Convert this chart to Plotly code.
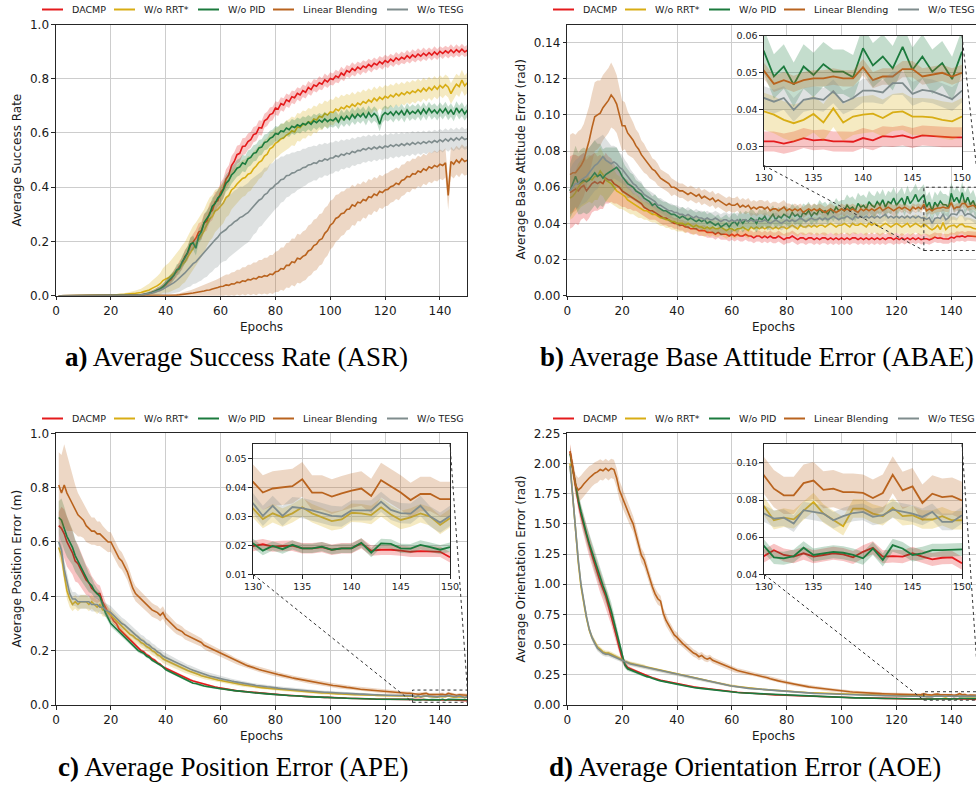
import plotly.graph_objects as go

W, H = 976, 785
epochs = list(range(1, 151))

method_names = ["DACMP", "W/o RRT*", "W/o PID", "Linear Blending", "W/o TESG"]
method_colors = ["#e41a1c", "#d8ad14", "#1b7a3d", "#b9631e", "#7f8c8d"]

# ---------------- (a) Average Success Rate ----------------
asr_dacmp = [
    0, 0, 0, 0, 0, 0, 0, 0, 0, 0,
    0, 0, 0, 0, 0, 0, 0, 0, 0, 0,
    0, 0, 0, 0, 0, 0, 0, 0.001, 0.001, 0.002,
    0.003, 0.005, 0.007, 0.008, 0.013, 0.015, 0.022, 0.024, 0.034, 0.04,
    0.052, 0.06, 0.078, 0.088, 0.108, 0.118, 0.145, 0.155, 0.185, 0.2,
    0.212, 0.235, 0.24, 0.268, 0.275, 0.305, 0.315, 0.345, 0.35, 0.38,
    0.395, 0.43, 0.445, 0.48, 0.495, 0.52, 0.525, 0.55, 0.552, 0.568,
    0.575, 0.594, 0.598, 0.62, 0.618, 0.645, 0.652, 0.668, 0.672, 0.692,
    0.688, 0.708, 0.703, 0.722, 0.716, 0.734, 0.73, 0.746, 0.74, 0.756,
    0.75, 0.768, 0.76, 0.777, 0.772, 0.785, 0.78, 0.796, 0.788, 0.801,
    0.797, 0.81, 0.805, 0.821, 0.813, 0.83, 0.824, 0.838, 0.83, 0.843,
    0.835, 0.847, 0.841, 0.853, 0.845, 0.857, 0.851, 0.863, 0.855, 0.867,
    0.86, 0.872, 0.864, 0.877, 0.869, 0.879, 0.873, 0.885, 0.876, 0.888,
    0.88, 0.891, 0.883, 0.894, 0.885, 0.896, 0.887, 0.899, 0.889, 0.901,
    0.893, 0.903, 0.895, 0.906, 0.896, 0.907, 0.898, 0.909, 0.899, 0.905,
]
asr_dacmp_sd = [
    0, 0, 0, 0, 0, 0, 0, 0, 0, 0,
    0, 0, 0, 0, 0, 0, 0, 0, 0, 0,
    0, 0, 0, 0, 0, 0, 0, 0.001, 0.001, 0.002,
    0.002, 0.003, 0.004, 0.005, 0.006, 0.007, 0.008, 0.009, 0.01, 0.012,
    0.014, 0.016, 0.018, 0.02, 0.021, 0.022, 0.024, 0.026, 0.028, 0.03,
    0.031, 0.032, 0.033, 0.034, 0.035, 0.035, 0.036, 0.036, 0.037, 0.037,
    0.037, 0.036, 0.036, 0.035, 0.034, 0.033, 0.032, 0.031, 0.03, 0.03,
    0.029, 0.028, 0.028, 0.027, 0.027, 0.026, 0.026, 0.026, 0.025, 0.025,
    0.025, 0.024, 0.025, 0.024, 0.024, 0.023, 0.024, 0.023, 0.024, 0.023,
    0.023, 0.024, 0.023, 0.022, 0.023, 0.024, 0.022, 0.023, 0.022, 0.023,
    0.022, 0.023, 0.022, 0.023, 0.022, 0.021, 0.022, 0.023, 0.022, 0.021,
    0.022, 0.021, 0.022, 0.021, 0.022, 0.021, 0.02, 0.021, 0.022, 0.021,
    0.021, 0.02, 0.021, 0.022, 0.02, 0.021, 0.02, 0.021, 0.02, 0.021,
    0.02, 0.021, 0.02, 0.021, 0.02, 0.019, 0.02, 0.021, 0.02, 0.019,
    0.02, 0.019, 0.02, 0.021, 0.019, 0.02, 0.019, 0.02, 0.019, 0.02,
]
asr_rrt = [
    0, 0, 0, 0, 0, 0, 0, 0, 0, 0,
    0, 0, 0, 0, 0, 0, 0, 0.001, 0.001, 0.002,
    0.002, 0.003, 0.003, 0.004, 0.005, 0.006, 0.006, 0.008, 0.009, 0.01,
    0.012, 0.015, 0.018, 0.021, 0.027, 0.031, 0.037, 0.044, 0.056, 0.062,
    0.066, 0.074, 0.082, 0.092, 0.1, 0.114, 0.124, 0.142, 0.158, 0.178,
    0.19, 0.206, 0.222, 0.238, 0.262, 0.282, 0.292, 0.312, 0.318, 0.332,
    0.342, 0.362, 0.37, 0.39, 0.398, 0.412, 0.422, 0.432, 0.436, 0.448,
    0.452, 0.468, 0.478, 0.492, 0.498, 0.515, 0.522, 0.542, 0.548, 0.562,
    0.568, 0.578, 0.582, 0.592, 0.598, 0.608, 0.604, 0.622, 0.62, 0.632,
    0.63, 0.642, 0.638, 0.652, 0.648, 0.662, 0.658, 0.672, 0.666, 0.678,
    0.675, 0.688, 0.682, 0.695, 0.689, 0.7, 0.694, 0.706, 0.698, 0.71,
    0.704, 0.716, 0.71, 0.722, 0.714, 0.728, 0.719, 0.732, 0.724, 0.735,
    0.729, 0.74, 0.733, 0.745, 0.737, 0.748, 0.741, 0.752, 0.745, 0.755,
    0.749, 0.76, 0.752, 0.765, 0.755, 0.768, 0.758, 0.772, 0.761, 0.775,
    0.766, 0.778, 0.769, 0.745, 0.764, 0.78, 0.771, 0.795, 0.774, 0.785,
]
asr_rrt_sd = [
    0, 0, 0, 0, 0, 0, 0, 0, 0, 0,
    0, 0, 0, 0, 0, 0, 0, 0.001, 0.001, 0.001,
    0.002, 0.003, 0.003, 0.004, 0.005, 0.006, 0.007, 0.008, 0.01, 0.012,
    0.014, 0.017, 0.02, 0.024, 0.028, 0.032, 0.036, 0.04, 0.045, 0.05,
    0.054, 0.058, 0.062, 0.066, 0.07, 0.072, 0.074, 0.076, 0.078, 0.08,
    0.08, 0.08, 0.08, 0.08, 0.08, 0.08, 0.079, 0.078, 0.077, 0.076,
    0.075, 0.074, 0.073, 0.072, 0.071, 0.07, 0.069, 0.068, 0.067, 0.066,
    0.065, 0.064, 0.063, 0.062, 0.061, 0.06, 0.059, 0.058, 0.057, 0.056,
    0.055, 0.055, 0.054, 0.054, 0.053, 0.053, 0.052, 0.052, 0.051, 0.051,
    0.05, 0.05, 0.05, 0.049, 0.049, 0.049, 0.048, 0.048, 0.048, 0.047,
    0.047, 0.047, 0.046, 0.046, 0.046, 0.045, 0.045, 0.045, 0.044, 0.044,
    0.044, 0.044, 0.043, 0.043, 0.043, 0.043, 0.042, 0.042, 0.042, 0.042,
    0.042, 0.041, 0.041, 0.041, 0.041, 0.04, 0.04, 0.04, 0.04, 0.04,
    0.04, 0.04, 0.039, 0.039, 0.039, 0.039, 0.039, 0.038, 0.038, 0.038,
    0.038, 0.038, 0.038, 0.038, 0.038, 0.038, 0.038, 0.038, 0.038, 0.038,
]
asr_pid = [
    0, 0, 0, 0, 0, 0, 0, 0, 0, 0,
    0, 0, 0, 0, 0, 0, 0, 0, 0, 0,
    0, 0, 0, 0, 0, 0, 0, 0, 0, 0,
    0.002, 0.004, 0.006, 0.009, 0.012, 0.016, 0.02, 0.026, 0.032, 0.045,
    0.055, 0.065, 0.075, 0.095, 0.1, 0.125, 0.14, 0.16, 0.19, 0.195,
    0.175, 0.22, 0.235, 0.27, 0.285, 0.3, 0.33, 0.34, 0.36, 0.37,
    0.39, 0.415, 0.425, 0.445, 0.455, 0.47, 0.475, 0.49, 0.485, 0.505,
    0.51, 0.525, 0.528, 0.545, 0.548, 0.565, 0.568, 0.58, 0.585, 0.598,
    0.595, 0.608, 0.605, 0.618, 0.612, 0.625, 0.62, 0.63, 0.625, 0.635,
    0.63, 0.64, 0.632, 0.645, 0.638, 0.648, 0.64, 0.652, 0.642, 0.65,
    0.645, 0.655, 0.64, 0.66, 0.648, 0.662, 0.65, 0.668, 0.655, 0.67,
    0.66, 0.672, 0.655, 0.675, 0.66, 0.672, 0.662, 0.632, 0.665, 0.675,
    0.668, 0.678, 0.665, 0.68, 0.668, 0.682, 0.665, 0.685, 0.67, 0.68,
    0.672, 0.685, 0.67, 0.688, 0.672, 0.69, 0.675, 0.685, 0.672, 0.688,
    0.675, 0.69, 0.672, 0.685, 0.668, 0.692, 0.675, 0.688, 0.67, 0.685,
]
asr_pid_sd = [
    0, 0, 0, 0, 0, 0, 0, 0, 0, 0,
    0, 0, 0, 0, 0, 0, 0, 0, 0, 0,
    0, 0, 0, 0, 0, 0, 0, 0, 0, 0,
    0.002, 0.003, 0.004, 0.005, 0.006, 0.008, 0.009, 0.01, 0.012, 0.014,
    0.015, 0.017, 0.018, 0.02, 0.021, 0.022, 0.023, 0.024, 0.025, 0.026,
    0.027, 0.028, 0.028, 0.029, 0.03, 0.03, 0.031, 0.031, 0.031, 0.032,
    0.032, 0.032, 0.032, 0.032, 0.031, 0.031, 0.031, 0.031, 0.03, 0.03,
    0.03, 0.03, 0.03, 0.029, 0.029, 0.029, 0.029, 0.028, 0.028, 0.028,
    0.028, 0.028, 0.028, 0.028, 0.027, 0.027, 0.027, 0.027, 0.027, 0.027,
    0.027, 0.026, 0.027, 0.026, 0.027, 0.026, 0.027, 0.026, 0.027, 0.026,
    0.026, 0.027, 0.026, 0.027, 0.026, 0.027, 0.026, 0.027, 0.026, 0.027,
    0.026, 0.026, 0.027, 0.026, 0.026, 0.027, 0.026, 0.026, 0.027, 0.026,
    0.026, 0.026, 0.026, 0.026, 0.026, 0.026, 0.026, 0.026, 0.026, 0.026,
    0.026, 0.025, 0.026, 0.025, 0.026, 0.025, 0.026, 0.025, 0.026, 0.025,
    0.025, 0.025, 0.025, 0.025, 0.025, 0.025, 0.025, 0.025, 0.025, 0.025,
]
asr_lb = [
    0, 0, 0, 0, 0, 0, 0, 0, 0, 0,
    0, 0, 0, 0, 0, 0, 0, 0, 0, 0,
    0, 0, 0, 0, 0, 0, 0, 0, 0, 0,
    0, 0, 0, 0, 0, 0, 0, 0, 0, 0,
    0.001, 0.001, 0.002, 0.002, 0.003, 0.004, 0.005, 0.006, 0.008, 0.01,
    0.012, 0.013, 0.016, 0.017, 0.02, 0.021, 0.025, 0.027, 0.03, 0.034,
    0.035, 0.04, 0.038, 0.044, 0.043, 0.05, 0.048, 0.055, 0.053, 0.06,
    0.058, 0.064, 0.062, 0.07, 0.068, 0.074, 0.072, 0.08, 0.078, 0.088,
    0.09, 0.1, 0.098, 0.112, 0.112, 0.125, 0.122, 0.138, 0.135, 0.145,
    0.15, 0.165, 0.17, 0.185, 0.19, 0.205, 0.21, 0.23, 0.24, 0.26,
    0.268, 0.285, 0.29, 0.302, 0.305, 0.318, 0.32, 0.335, 0.33, 0.345,
    0.342, 0.355, 0.35, 0.365, 0.362, 0.375, 0.37, 0.385, 0.38, 0.39,
    0.392, 0.402, 0.405, 0.415, 0.41, 0.425, 0.428, 0.44, 0.438, 0.45,
    0.448, 0.46, 0.455, 0.468, 0.462, 0.475, 0.47, 0.48, 0.475, 0.485,
    0.48, 0.49, 0.37, 0.495, 0.485, 0.5, 0.49, 0.505, 0.495, 0.5,
]
asr_lb_sd = [
    0, 0, 0, 0, 0, 0, 0, 0, 0, 0,
    0, 0, 0, 0, 0, 0, 0, 0, 0, 0,
    0, 0, 0, 0, 0, 0, 0, 0, 0, 0,
    0, 0, 0, 0, 0, 0, 0, 0, 0, 0,
    0.002, 0.003, 0.004, 0.005, 0.006, 0.008, 0.009, 0.01, 0.012, 0.014,
    0.016, 0.018, 0.02, 0.022, 0.024, 0.026, 0.028, 0.03, 0.032, 0.034,
    0.036, 0.038, 0.04, 0.042, 0.044, 0.046, 0.048, 0.05, 0.052, 0.054,
    0.056, 0.058, 0.06, 0.062, 0.064, 0.066, 0.068, 0.07, 0.072, 0.074,
    0.076, 0.078, 0.08, 0.082, 0.084, 0.086, 0.088, 0.09, 0.09, 0.092,
    0.092, 0.094, 0.094, 0.095, 0.095, 0.095, 0.094, 0.093, 0.092, 0.09,
    0.088, 0.086, 0.084, 0.082, 0.08, 0.078, 0.076, 0.074, 0.072, 0.07,
    0.068, 0.067, 0.066, 0.065, 0.064, 0.063, 0.062, 0.061, 0.06, 0.06,
    0.06, 0.059, 0.059, 0.058, 0.058, 0.058, 0.057, 0.057, 0.057, 0.056,
    0.056, 0.056, 0.056, 0.055, 0.055, 0.055, 0.055, 0.055, 0.054, 0.054,
    0.054, 0.054, 0.054, 0.054, 0.053, 0.053, 0.053, 0.053, 0.053, 0.053,
]
asr_tesg = [
    0, 0, 0, 0, 0, 0, 0, 0, 0, 0,
    0, 0, 0, 0, 0, 0, 0, 0, 0, 0,
    0, 0, 0, 0, 0, 0, 0, 0.001, 0.001, 0.002,
    0.003, 0.004, 0.006, 0.008, 0.01, 0.013, 0.016, 0.02, 0.025, 0.03,
    0.035, 0.042, 0.048, 0.056, 0.064, 0.075, 0.084, 0.096, 0.104, 0.118,
    0.125, 0.136, 0.146, 0.16, 0.17, 0.182, 0.194, 0.206, 0.216, 0.23,
    0.236, 0.244, 0.256, 0.262, 0.272, 0.278, 0.288, 0.292, 0.3, 0.306,
    0.318, 0.33, 0.338, 0.352, 0.358, 0.372, 0.378, 0.392, 0.398, 0.41,
    0.416, 0.428, 0.43, 0.442, 0.444, 0.452, 0.454, 0.462, 0.464, 0.472,
    0.474, 0.482, 0.484, 0.49, 0.488, 0.498, 0.496, 0.504, 0.5, 0.508,
    0.508, 0.516, 0.512, 0.522, 0.518, 0.526, 0.522, 0.532, 0.528, 0.536,
    0.534, 0.542, 0.538, 0.546, 0.54, 0.548, 0.542, 0.55, 0.544, 0.552,
    0.548, 0.556, 0.55, 0.558, 0.552, 0.56, 0.554, 0.562, 0.556, 0.565,
    0.558, 0.566, 0.56, 0.568, 0.562, 0.57, 0.564, 0.572, 0.566, 0.575,
    0.568, 0.578, 0.57, 0.58, 0.572, 0.582, 0.574, 0.585, 0.576, 0.58,
]
asr_tesg_sd = [
    0, 0, 0, 0, 0, 0, 0, 0, 0, 0,
    0, 0, 0, 0, 0, 0, 0, 0, 0, 0,
    0, 0, 0, 0, 0, 0, 0, 0.001, 0.001, 0.002,
    0.004, 0.005, 0.007, 0.008, 0.01, 0.012, 0.014, 0.017, 0.02, 0.025,
    0.03, 0.035, 0.04, 0.045, 0.05, 0.055, 0.06, 0.065, 0.07, 0.075,
    0.08, 0.085, 0.09, 0.095, 0.1, 0.1, 0.105, 0.105, 0.11, 0.11,
    0.11, 0.115, 0.115, 0.115, 0.115, 0.115, 0.115, 0.11, 0.11, 0.11,
    0.11, 0.105, 0.105, 0.1, 0.1, 0.1, 0.095, 0.095, 0.09, 0.09,
    0.088, 0.085, 0.083, 0.08, 0.078, 0.076, 0.074, 0.072, 0.07, 0.07,
    0.068, 0.066, 0.065, 0.064, 0.063, 0.062, 0.061, 0.06, 0.059, 0.058,
    0.057, 0.056, 0.055, 0.054, 0.053, 0.052, 0.052, 0.051, 0.05, 0.05,
    0.049, 0.049, 0.048, 0.048, 0.047, 0.047, 0.046, 0.046, 0.045, 0.045,
    0.045, 0.044, 0.044, 0.044, 0.043, 0.043, 0.043, 0.042, 0.042, 0.042,
    0.042, 0.041, 0.041, 0.041, 0.04, 0.04, 0.04, 0.04, 0.04, 0.04,
    0.04, 0.039, 0.039, 0.039, 0.039, 0.038, 0.038, 0.038, 0.038, 0.038,
]

# ---------------- (b) Average Base Attitude Error ----------------
abae_dacmp = [
    0.057, 0.058, 0.059, 0.058, 0.06, 0.061, 0.058, 0.06, 0.062, 0.063,
    0.062, 0.063, 0.062, 0.065, 0.064, 0.064, 0.062, 0.061, 0.06, 0.058,
    0.057, 0.056, 0.055, 0.054, 0.053, 0.052, 0.051, 0.049, 0.048, 0.047,
    0.047, 0.046, 0.045, 0.044, 0.043, 0.043, 0.042, 0.041, 0.04, 0.04,
    0.039, 0.039, 0.038, 0.038, 0.037, 0.037, 0.037, 0.036, 0.036, 0.036,
    0.035, 0.035, 0.035, 0.034, 0.035, 0.034, 0.034, 0.034, 0.033, 0.034,
    0.033, 0.034, 0.033, 0.033, 0.034, 0.033, 0.033, 0.032, 0.033, 0.033,
    0.032, 0.033, 0.032, 0.033, 0.032, 0.032, 0.033, 0.032, 0.031, 0.032,
    0.032, 0.033, 0.032, 0.031, 0.032, 0.032, 0.031, 0.032, 0.032, 0.031,
    0.032, 0.031, 0.032, 0.032, 0.031, 0.032, 0.031, 0.032, 0.031, 0.032,
    0.031, 0.032, 0.031, 0.032, 0.032, 0.031, 0.032, 0.031, 0.032, 0.031,
    0.032, 0.031, 0.032, 0.031, 0.032, 0.031, 0.032, 0.032, 0.031, 0.032,
    0.031, 0.032, 0.031, 0.032, 0.031, 0.032, 0.031, 0.032, 0.031, 0.0315,
    0.0315, 0.0309, 0.0315, 0.0324, 0.0318, 0.032, 0.0315, 0.0315, 0.0314, 0.0324,
    0.0318, 0.0329, 0.0327, 0.0331, 0.0324, 0.0331, 0.0329, 0.0326, 0.0326, 0.0326,
]
abae_dacmp_sd = [
    0.02, 0.02, 0.019, 0.019, 0.018, 0.018, 0.017, 0.017, 0.016, 0.016,
    0.015, 0.015, 0.014, 0.014, 0.013, 0.012, 0.011, 0.01, 0.01, 0.009,
    0.008, 0.008, 0.007, 0.007, 0.006, 0.006, 0.006, 0.005, 0.005, 0.005,
    0.005, 0.004, 0.004, 0.004, 0.004, 0.004, 0.004, 0.003, 0.003, 0.003,
    0.003, 0.003, 0.003, 0.003, 0.003, 0.003, 0.003, 0.003, 0.003, 0.003,
    0.003, 0.003, 0.003, 0.003, 0.003, 0.003, 0.003, 0.003, 0.003, 0.003,
    0.003, 0.003, 0.003, 0.003, 0.003, 0.003, 0.003, 0.003, 0.003, 0.003,
    0.003, 0.003, 0.003, 0.003, 0.003, 0.003, 0.003, 0.003, 0.003, 0.003,
    0.003, 0.003, 0.003, 0.003, 0.003, 0.003, 0.003, 0.003, 0.003, 0.003,
    0.003, 0.003, 0.003, 0.003, 0.003, 0.003, 0.003, 0.003, 0.003, 0.003,
    0.003, 0.003, 0.003, 0.003, 0.003, 0.003, 0.003, 0.003, 0.003, 0.003,
    0.003, 0.003, 0.003, 0.003, 0.003, 0.003, 0.003, 0.003, 0.003, 0.003,
    0.0027, 0.0027, 0.0027, 0.0027, 0.0027, 0.0027, 0.0027, 0.0027, 0.0027, 0.0027,
    0.0027, 0.0027, 0.0027, 0.0027, 0.0027, 0.0027, 0.0027, 0.0027, 0.0027, 0.0027,
    0.0027, 0.0027, 0.0027, 0.0027, 0.0027, 0.0027, 0.0027, 0.0027, 0.0027, 0.0027,
]
abae_rrt = [
    0.054, 0.055, 0.057, 0.06, 0.062, 0.063, 0.064, 0.065, 0.064, 0.066,
    0.066, 0.069, 0.067, 0.064, 0.063, 0.062, 0.06, 0.058, 0.057, 0.056,
    0.055, 0.053, 0.052, 0.051, 0.05, 0.049, 0.048, 0.047, 0.047, 0.046,
    0.045, 0.045, 0.044, 0.043, 0.043, 0.042, 0.042, 0.041, 0.041, 0.04,
    0.04, 0.04, 0.039, 0.04, 0.039, 0.038, 0.039, 0.038, 0.038, 0.037,
    0.038, 0.037, 0.038, 0.037, 0.037, 0.038, 0.037, 0.036, 0.037, 0.037,
    0.036, 0.037, 0.037, 0.038, 0.037, 0.036, 0.038, 0.037, 0.038, 0.037,
    0.038, 0.037, 0.038, 0.038, 0.037, 0.038, 0.037, 0.038, 0.038, 0.037,
    0.038, 0.039, 0.038, 0.037, 0.039, 0.038, 0.038, 0.039, 0.038, 0.039,
    0.038, 0.039, 0.039, 0.038, 0.039, 0.04, 0.039, 0.038, 0.039, 0.039,
    0.04, 0.039, 0.038, 0.04, 0.039, 0.039, 0.04, 0.039, 0.038, 0.04,
    0.039, 0.04, 0.039, 0.038, 0.039, 0.04, 0.039, 0.038, 0.039, 0.04,
    0.039, 0.038, 0.039, 0.04, 0.038, 0.039, 0.04, 0.039, 0.038, 0.0396,
    0.0387, 0.0373, 0.0364, 0.0373, 0.0389, 0.0366, 0.0404, 0.0366, 0.0382, 0.0387,
    0.039, 0.0378, 0.0393, 0.0396, 0.0382, 0.0382, 0.038, 0.0373, 0.0369, 0.0382,
]
abae_rrt_sd = [
    0.012, 0.012, 0.012, 0.013, 0.013, 0.013, 0.013, 0.013, 0.013, 0.013,
    0.013, 0.013, 0.012, 0.012, 0.011, 0.011, 0.01, 0.009, 0.009, 0.008,
    0.008, 0.007, 0.007, 0.006, 0.006, 0.006, 0.005, 0.005, 0.005, 0.005,
    0.0045, 0.0045, 0.0045, 0.0045, 0.0045, 0.0045, 0.0045, 0.0045, 0.0045, 0.0045,
    0.0045, 0.0045, 0.0045, 0.0045, 0.0045, 0.0045, 0.0045, 0.0045, 0.0045, 0.0045,
    0.0045, 0.0045, 0.0045, 0.0045, 0.0045, 0.0045, 0.0045, 0.0045, 0.0045, 0.0045,
    0.0045, 0.0045, 0.0045, 0.0045, 0.0045, 0.0045, 0.0045, 0.0045, 0.0045, 0.0045,
    0.0045, 0.0045, 0.0045, 0.0045, 0.0045, 0.0045, 0.0045, 0.0045, 0.0045, 0.0045,
    0.0045, 0.0045, 0.0045, 0.0045, 0.0045, 0.0045, 0.0045, 0.0045, 0.0045, 0.0045,
    0.005, 0.005, 0.005, 0.005, 0.005, 0.005, 0.005, 0.005, 0.005, 0.005,
    0.005, 0.005, 0.005, 0.005, 0.005, 0.005, 0.005, 0.005, 0.005, 0.005,
    0.005, 0.005, 0.005, 0.005, 0.005, 0.005, 0.005, 0.005, 0.005, 0.005,
    0.005, 0.005, 0.005, 0.005, 0.005, 0.005, 0.005, 0.005, 0.005, 0.005,
    0.005, 0.005, 0.005, 0.005, 0.005, 0.005, 0.005, 0.005, 0.005, 0.005,
    0.005, 0.005, 0.005, 0.005, 0.005, 0.005, 0.005, 0.005, 0.005, 0.005,
]
abae_pid = [
    0.058, 0.062, 0.066, 0.062, 0.063, 0.064, 0.063, 0.064, 0.066, 0.068,
    0.066, 0.067, 0.065, 0.067, 0.068, 0.069, 0.07, 0.071, 0.069, 0.066,
    0.064, 0.062, 0.061, 0.06, 0.058, 0.057, 0.056, 0.054, 0.053, 0.052,
    0.05, 0.051, 0.049, 0.048, 0.047, 0.047, 0.046, 0.045, 0.045, 0.044,
    0.043, 0.044, 0.043, 0.042, 0.043, 0.042, 0.041, 0.042, 0.041, 0.042,
    0.04, 0.041, 0.04, 0.039, 0.04, 0.038, 0.039, 0.04, 0.038, 0.04,
    0.041, 0.039, 0.042, 0.04, 0.042, 0.041, 0.043, 0.042, 0.04, 0.043,
    0.042, 0.044, 0.041, 0.043, 0.045, 0.042, 0.044, 0.043, 0.045, 0.044,
    0.043, 0.046, 0.044, 0.045, 0.043, 0.046, 0.045, 0.047, 0.044, 0.046,
    0.045, 0.048, 0.046, 0.047, 0.045, 0.048, 0.046, 0.049, 0.047, 0.048,
    0.047, 0.05, 0.048, 0.049, 0.047, 0.051, 0.049, 0.05, 0.048, 0.052,
    0.05, 0.049, 0.052, 0.05, 0.053, 0.049, 0.052, 0.051, 0.054, 0.05,
    0.052, 0.054, 0.05, 0.055, 0.051, 0.053, 0.056, 0.052, 0.054, 0.0557,
    0.049, 0.0517, 0.0468, 0.0517, 0.0494, 0.0523, 0.0503, 0.0503, 0.0488, 0.0566,
    0.052, 0.0544, 0.0512, 0.057, 0.0508, 0.0544, 0.0503, 0.0526, 0.0483, 0.0557,
]
abae_pid_sd = [
    0.015, 0.016, 0.017, 0.017, 0.018, 0.018, 0.018, 0.018, 0.018, 0.018,
    0.018, 0.017, 0.016, 0.015, 0.014, 0.013, 0.012, 0.011, 0.01, 0.009,
    0.008, 0.008, 0.007, 0.007, 0.006, 0.006, 0.006, 0.006, 0.005, 0.005,
    0.005, 0.005, 0.005, 0.005, 0.005, 0.005, 0.005, 0.005, 0.005, 0.005,
    0.005, 0.005, 0.005, 0.005, 0.005, 0.005, 0.005, 0.005, 0.005, 0.005,
    0.005, 0.005, 0.005, 0.005, 0.005, 0.005, 0.005, 0.005, 0.005, 0.005,
    0.005, 0.005, 0.005, 0.005, 0.005, 0.005, 0.005, 0.005, 0.005, 0.005,
    0.005, 0.005, 0.005, 0.005, 0.005, 0.005, 0.005, 0.005, 0.005, 0.005,
    0.005, 0.005, 0.005, 0.005, 0.005, 0.005, 0.005, 0.005, 0.005, 0.005,
    0.005, 0.005, 0.005, 0.005, 0.005, 0.005, 0.005, 0.005, 0.005, 0.005,
    0.006, 0.006, 0.006, 0.006, 0.006, 0.006, 0.006, 0.006, 0.006, 0.006,
    0.006, 0.006, 0.006, 0.006, 0.006, 0.006, 0.006, 0.006, 0.006, 0.006,
    0.006, 0.006, 0.006, 0.006, 0.006, 0.006, 0.006, 0.006, 0.006, 0.006,
    0.006, 0.006, 0.006, 0.006, 0.006, 0.006, 0.006, 0.006, 0.006, 0.006,
    0.006, 0.006, 0.006, 0.006, 0.006, 0.006, 0.006, 0.006, 0.006, 0.006,
]
abae_lb = [
    0.067, 0.068, 0.068, 0.07, 0.072, 0.075, 0.08, 0.086, 0.093, 0.099,
    0.1, 0.101, 0.104, 0.106, 0.108, 0.111, 0.109, 0.106, 0.1, 0.094,
    0.094, 0.09, 0.088, 0.086, 0.083, 0.081, 0.078, 0.076, 0.074, 0.072,
    0.07, 0.069, 0.067, 0.065, 0.064, 0.063, 0.062, 0.06, 0.06, 0.059,
    0.058, 0.058, 0.057, 0.056, 0.057, 0.056, 0.055, 0.056, 0.054, 0.055,
    0.054, 0.053, 0.054, 0.052, 0.053, 0.052, 0.051, 0.05, 0.051, 0.05,
    0.05, 0.051, 0.049, 0.05, 0.049, 0.05, 0.048, 0.049, 0.048, 0.049,
    0.049, 0.048, 0.049, 0.047, 0.048, 0.048, 0.047, 0.048, 0.049, 0.047,
    0.048, 0.047, 0.048, 0.047, 0.048, 0.046, 0.047, 0.048, 0.047, 0.048,
    0.047, 0.048, 0.047, 0.046, 0.047, 0.048, 0.047, 0.046, 0.047, 0.048,
    0.047, 0.048, 0.047, 0.048, 0.047, 0.046, 0.048, 0.047, 0.048, 0.047,
    0.048, 0.047, 0.048, 0.049, 0.047, 0.048, 0.049, 0.048, 0.047, 0.048,
    0.049, 0.048, 0.049, 0.048, 0.047, 0.049, 0.048, 0.049, 0.048, 0.0505,
    0.047, 0.048, 0.047, 0.048, 0.0485, 0.0485, 0.049, 0.0485, 0.0485, 0.0515,
    0.048, 0.049, 0.049, 0.051, 0.051, 0.049, 0.0495, 0.05, 0.049, 0.05,
]
abae_lb_sd = [
    0.022, 0.022, 0.021, 0.021, 0.02, 0.02, 0.02, 0.019, 0.019, 0.019,
    0.019, 0.018, 0.018, 0.018, 0.018, 0.018, 0.017, 0.016, 0.015, 0.014,
    0.013, 0.012, 0.011, 0.01, 0.009, 0.009, 0.008, 0.008, 0.007, 0.007,
    0.006, 0.006, 0.006, 0.005, 0.005, 0.005, 0.005, 0.005, 0.004, 0.004,
    0.004, 0.004, 0.004, 0.004, 0.004, 0.004, 0.004, 0.004, 0.004, 0.004,
    0.004, 0.004, 0.004, 0.004, 0.004, 0.004, 0.004, 0.004, 0.004, 0.004,
    0.004, 0.004, 0.004, 0.004, 0.004, 0.004, 0.004, 0.004, 0.004, 0.004,
    0.004, 0.004, 0.004, 0.004, 0.004, 0.004, 0.004, 0.004, 0.004, 0.004,
    0.003, 0.003, 0.003, 0.003, 0.003, 0.003, 0.003, 0.003, 0.003, 0.003,
    0.003, 0.003, 0.003, 0.003, 0.003, 0.003, 0.003, 0.003, 0.003, 0.003,
    0.003, 0.003, 0.003, 0.003, 0.003, 0.003, 0.003, 0.003, 0.003, 0.003,
    0.003, 0.003, 0.003, 0.003, 0.003, 0.003, 0.003, 0.003, 0.003, 0.003,
    0.0022, 0.0022, 0.0022, 0.0022, 0.0022, 0.0022, 0.0022, 0.0022, 0.0022, 0.0022,
    0.0022, 0.0022, 0.0022, 0.0022, 0.0022, 0.0022, 0.0022, 0.0022, 0.0022, 0.0022,
    0.0022, 0.0022, 0.0022, 0.0022, 0.0022, 0.0022, 0.0022, 0.0022, 0.0022, 0.0022,
]
abae_tesg = [
    0.058, 0.06, 0.062, 0.062, 0.064, 0.065, 0.066, 0.068, 0.07, 0.072,
    0.073, 0.075, 0.077, 0.075, 0.074, 0.073, 0.074, 0.073, 0.071, 0.07,
    0.068, 0.066, 0.064, 0.062, 0.061, 0.059, 0.058, 0.056, 0.055, 0.054,
    0.053, 0.052, 0.05, 0.05, 0.049, 0.048, 0.047, 0.047, 0.046, 0.046,
    0.045, 0.045, 0.044, 0.045, 0.044, 0.043, 0.044, 0.043, 0.043, 0.042,
    0.043, 0.042, 0.042, 0.043, 0.042, 0.041, 0.042, 0.042, 0.041, 0.042,
    0.041, 0.042, 0.041, 0.042, 0.042, 0.041, 0.042, 0.041, 0.042, 0.041,
    0.041, 0.042, 0.041, 0.04, 0.041, 0.042, 0.041, 0.04, 0.041, 0.042,
    0.041, 0.042, 0.041, 0.042, 0.043, 0.042, 0.041, 0.042, 0.043, 0.042,
    0.042, 0.043, 0.042, 0.043, 0.042, 0.043, 0.044, 0.043, 0.042, 0.043,
    0.043, 0.044, 0.043, 0.042, 0.044, 0.043, 0.044, 0.043, 0.044, 0.043,
    0.044, 0.043, 0.044, 0.043, 0.044, 0.045, 0.043, 0.044, 0.043, 0.044,
    0.043, 0.044, 0.043, 0.044, 0.043, 0.044, 0.043, 0.044, 0.043, 0.0432,
    0.0422, 0.0432, 0.04, 0.0427, 0.0432, 0.0427, 0.045, 0.042, 0.0432, 0.0452,
    0.0452, 0.0447, 0.0472, 0.0472, 0.0443, 0.0454, 0.045, 0.044, 0.0429, 0.0452,
]
abae_tesg_sd = [
    0.012, 0.013, 0.013, 0.014, 0.014, 0.014, 0.014, 0.014, 0.014, 0.014,
    0.014, 0.013, 0.012, 0.012, 0.011, 0.01, 0.009, 0.009, 0.008, 0.008,
    0.007, 0.007, 0.006, 0.006, 0.005, 0.005, 0.005, 0.004, 0.004, 0.004,
    0.004, 0.004, 0.004, 0.004, 0.004, 0.004, 0.004, 0.004, 0.004, 0.004,
    0.004, 0.004, 0.004, 0.004, 0.004, 0.004, 0.004, 0.004, 0.004, 0.004,
    0.004, 0.004, 0.004, 0.004, 0.004, 0.004, 0.004, 0.004, 0.004, 0.004,
    0.004, 0.004, 0.004, 0.004, 0.004, 0.004, 0.004, 0.004, 0.004, 0.004,
    0.004, 0.004, 0.004, 0.004, 0.004, 0.004, 0.004, 0.004, 0.004, 0.004,
    0.004, 0.004, 0.004, 0.004, 0.004, 0.004, 0.004, 0.004, 0.004, 0.004,
    0.0032, 0.0032, 0.0032, 0.0032, 0.0032, 0.0032, 0.0032, 0.0032, 0.0032, 0.0032,
    0.0032, 0.0032, 0.0032, 0.0032, 0.0032, 0.0032, 0.0032, 0.0032, 0.0032, 0.0032,
    0.0032, 0.0032, 0.0032, 0.0032, 0.0032, 0.0032, 0.0032, 0.0032, 0.0032, 0.0032,
    0.0032, 0.0032, 0.0032, 0.0032, 0.0032, 0.0032, 0.0032, 0.0032, 0.0032, 0.0032,
    0.0032, 0.0032, 0.0032, 0.0032, 0.0032, 0.0032, 0.0032, 0.0032, 0.0032, 0.0032,
    0.0032, 0.0032, 0.0032, 0.0032, 0.0032, 0.0032, 0.0032, 0.0032, 0.0032, 0.0032,
]

# ---------------- (c) Average Position Error ----------------
ape_dacmp = [
    0.66, 0.65, 0.63, 0.6, 0.58, 0.56, 0.53, 0.52, 0.5, 0.48,
    0.46, 0.45, 0.43, 0.42, 0.41, 0.41, 0.38, 0.36, 0.34, 0.33,
    0.31, 0.3, 0.28, 0.27, 0.26, 0.25, 0.24, 0.23, 0.22, 0.21,
    0.2, 0.195, 0.185, 0.18, 0.17, 0.165, 0.155, 0.15, 0.14, 0.135,
    0.13, 0.125, 0.12, 0.115, 0.11, 0.105, 0.1, 0.096, 0.092, 0.088,
    0.085, 0.082, 0.079, 0.076, 0.073, 0.07, 0.068, 0.066, 0.064, 0.062,
    0.06, 0.058, 0.057, 0.055, 0.054, 0.052, 0.051, 0.05, 0.049, 0.048,
    0.047, 0.046, 0.045, 0.044, 0.043, 0.042, 0.041, 0.04, 0.039, 0.039,
    0.038, 0.037, 0.036, 0.036, 0.035, 0.035, 0.034, 0.033, 0.033, 0.032,
    0.032, 0.031, 0.031, 0.03, 0.03, 0.029, 0.029, 0.028, 0.028, 0.028,
    0.027, 0.027, 0.026, 0.026, 0.026, 0.025, 0.025, 0.025, 0.024, 0.024,
    0.024, 0.023, 0.023, 0.023, 0.022, 0.022, 0.022, 0.022, 0.021, 0.021,
    0.021, 0.021, 0.021, 0.02, 0.02, 0.021, 0.02, 0.02, 0.02, 0.0198,
    0.0204, 0.0196, 0.0198, 0.0199, 0.019, 0.019, 0.0194, 0.0185, 0.019, 0.019,
    0.0207, 0.0182, 0.0185, 0.0185, 0.0182, 0.0178, 0.018, 0.0178, 0.0178, 0.0159,
]
ape_dacmp_sd = [
    0.05, 0.08, 0.09, 0.09, 0.085, 0.08, 0.075, 0.07, 0.065, 0.06,
    0.055, 0.05, 0.045, 0.04, 0.035, 0.03, 0.025, 0.02, 0.018, 0.015,
    0.013, 0.012, 0.011, 0.01, 0.01, 0.009, 0.009, 0.008, 0.008, 0.008,
    0.007, 0.007, 0.007, 0.006, 0.006, 0.006, 0.006, 0.005, 0.005, 0.005,
    0.005, 0.005, 0.005, 0.005, 0.005, 0.005, 0.004, 0.004, 0.004, 0.004,
    0.004, 0.004, 0.004, 0.004, 0.004, 0.004, 0.004, 0.004, 0.004, 0.004,
    0.0035, 0.0035, 0.0035, 0.0035, 0.0035, 0.0035, 0.0035, 0.0035, 0.0035, 0.0035,
    0.003, 0.003, 0.003, 0.003, 0.003, 0.003, 0.003, 0.003, 0.003, 0.003,
    0.0025, 0.0025, 0.0025, 0.0025, 0.0025, 0.0025, 0.0025, 0.0025, 0.0025, 0.0025,
    0.0025, 0.0025, 0.0025, 0.0025, 0.0025, 0.0025, 0.0025, 0.0025, 0.0025, 0.0025,
    0.0022, 0.0022, 0.0022, 0.0022, 0.0022, 0.0022, 0.0022, 0.0022, 0.0022, 0.0022,
    0.002, 0.002, 0.002, 0.002, 0.002, 0.002, 0.002, 0.002, 0.002, 0.002,
    0.0018, 0.0018, 0.0018, 0.0018, 0.0018, 0.0018, 0.0018, 0.0018, 0.0018, 0.0018,
    0.0018, 0.0018, 0.0018, 0.0018, 0.0018, 0.0018, 0.0018, 0.0018, 0.0018, 0.0018,
    0.0018, 0.0018, 0.0018, 0.0018, 0.0018, 0.0018, 0.0018, 0.0018, 0.0018, 0.0018,
]
ape_rrt = [
    0.58, 0.55, 0.48, 0.42, 0.39, 0.37, 0.38, 0.37, 0.38, 0.38,
    0.38, 0.37, 0.38, 0.37, 0.36, 0.37, 0.35, 0.35, 0.34, 0.33,
    0.32, 0.31, 0.3, 0.29, 0.28, 0.27, 0.26, 0.255, 0.245, 0.24,
    0.23, 0.225, 0.215, 0.21, 0.2, 0.195, 0.185, 0.18, 0.17, 0.165,
    0.16, 0.155, 0.15, 0.145, 0.14, 0.135, 0.13, 0.127, 0.123, 0.12,
    0.115, 0.112, 0.108, 0.105, 0.102, 0.1, 0.097, 0.095, 0.092, 0.09,
    0.088, 0.085, 0.083, 0.081, 0.079, 0.078, 0.076, 0.074, 0.073, 0.072,
    0.07, 0.069, 0.067, 0.066, 0.064, 0.063, 0.062, 0.061, 0.06, 0.059,
    0.058, 0.057, 0.056, 0.055, 0.054, 0.053, 0.052, 0.051, 0.05, 0.049,
    0.048, 0.048, 0.047, 0.046, 0.046, 0.045, 0.044, 0.044, 0.043, 0.043,
    0.042, 0.042, 0.041, 0.041, 0.04, 0.04, 0.039, 0.039, 0.038, 0.038,
    0.038, 0.037, 0.037, 0.036, 0.036, 0.036, 0.035, 0.035, 0.035, 0.034,
    0.034, 0.034, 0.033, 0.034, 0.033, 0.033, 0.033, 0.032, 0.033, 0.0328,
    0.0291, 0.0311, 0.0297, 0.0311, 0.0332, 0.0311, 0.0297, 0.0284, 0.029, 0.0313,
    0.0311, 0.0305, 0.0332, 0.0307, 0.0288, 0.0297, 0.0311, 0.03, 0.0271, 0.0294,
]
ape_rrt_sd = [
    0.03, 0.035, 0.035, 0.03, 0.03, 0.025, 0.025, 0.025, 0.025, 0.025,
    0.025, 0.025, 0.025, 0.025, 0.025, 0.025, 0.024, 0.024, 0.023, 0.023,
    0.022, 0.022, 0.021, 0.021, 0.02, 0.02, 0.02, 0.019, 0.019, 0.018,
    0.018, 0.018, 0.017, 0.017, 0.016, 0.016, 0.016, 0.015, 0.015, 0.015,
    0.014, 0.014, 0.014, 0.013, 0.013, 0.013, 0.012, 0.012, 0.012, 0.011,
    0.011, 0.011, 0.01, 0.01, 0.01, 0.01, 0.009, 0.009, 0.009, 0.009,
    0.008, 0.008, 0.008, 0.008, 0.007, 0.007, 0.007, 0.007, 0.007, 0.007,
    0.006, 0.006, 0.006, 0.006, 0.006, 0.006, 0.006, 0.006, 0.006, 0.006,
    0.0055, 0.0055, 0.0055, 0.0055, 0.0055, 0.0055, 0.0055, 0.0055, 0.0055, 0.0055,
    0.005, 0.005, 0.005, 0.005, 0.005, 0.005, 0.005, 0.005, 0.005, 0.005,
    0.0045, 0.0045, 0.0045, 0.0045, 0.0045, 0.0045, 0.0045, 0.0045, 0.0045, 0.0045,
    0.004, 0.004, 0.004, 0.004, 0.004, 0.004, 0.004, 0.004, 0.004, 0.004,
    0.0032, 0.0032, 0.0032, 0.0032, 0.0032, 0.0032, 0.0032, 0.0032, 0.0032, 0.0032,
    0.0032, 0.0032, 0.0032, 0.0032, 0.0032, 0.0032, 0.0032, 0.0032, 0.0032, 0.0032,
    0.0032, 0.0032, 0.0032, 0.0032, 0.0032, 0.0032, 0.0032, 0.0032, 0.0032, 0.0032,
]
ape_pid = [
    0.69, 0.68, 0.65, 0.62, 0.6, 0.58, 0.55, 0.53, 0.51, 0.49,
    0.47, 0.45, 0.44, 0.42, 0.41, 0.4, 0.37, 0.34, 0.32, 0.3,
    0.29, 0.28, 0.27, 0.26, 0.25, 0.24, 0.23, 0.22, 0.21, 0.2,
    0.195, 0.19, 0.18, 0.175, 0.165, 0.16, 0.152, 0.147, 0.14, 0.13,
    0.125, 0.12, 0.115, 0.11, 0.105, 0.1, 0.095, 0.09, 0.085, 0.08,
    0.079, 0.075, 0.072, 0.07, 0.068, 0.066, 0.065, 0.063, 0.062, 0.06,
    0.059, 0.057, 0.056, 0.054, 0.053, 0.052, 0.05, 0.05, 0.049, 0.047,
    0.046, 0.045, 0.044, 0.044, 0.043, 0.042, 0.041, 0.04, 0.04, 0.039,
    0.038, 0.037, 0.037, 0.036, 0.035, 0.034, 0.034, 0.033, 0.033, 0.032,
    0.031, 0.031, 0.03, 0.03, 0.029, 0.029, 0.028, 0.028, 0.028, 0.027,
    0.027, 0.026, 0.026, 0.026, 0.025, 0.025, 0.025, 0.024, 0.024, 0.024,
    0.023, 0.023, 0.023, 0.022, 0.022, 0.022, 0.021, 0.021, 0.021, 0.021,
    0.021, 0.02, 0.021, 0.02, 0.02, 0.02, 0.021, 0.02, 0.02, 0.0207,
    0.0182, 0.0198, 0.0187, 0.0202, 0.019, 0.019, 0.0196, 0.0185, 0.019, 0.019,
    0.0209, 0.0175, 0.0207, 0.0205, 0.019, 0.0189, 0.0202, 0.0194, 0.0185, 0.0194,
]
ape_pid_sd = [
    0.06, 0.08, 0.08, 0.075, 0.07, 0.065, 0.06, 0.055, 0.05, 0.045,
    0.04, 0.035, 0.03, 0.025, 0.02, 0.018, 0.016, 0.014, 0.013, 0.012,
    0.011, 0.01, 0.01, 0.009, 0.009, 0.008, 0.008, 0.008, 0.007, 0.007,
    0.007, 0.006, 0.006, 0.006, 0.006, 0.005, 0.005, 0.005, 0.005, 0.005,
    0.005, 0.005, 0.005, 0.005, 0.005, 0.005, 0.004, 0.004, 0.004, 0.004,
    0.004, 0.004, 0.004, 0.004, 0.004, 0.004, 0.004, 0.004, 0.004, 0.004,
    0.0035, 0.0035, 0.0035, 0.0035, 0.0035, 0.0035, 0.0035, 0.0035, 0.0035, 0.0035,
    0.003, 0.003, 0.003, 0.003, 0.003, 0.003, 0.003, 0.003, 0.003, 0.003,
    0.0025, 0.0025, 0.0025, 0.0025, 0.0025, 0.0025, 0.0025, 0.0025, 0.0025, 0.0025,
    0.0025, 0.0025, 0.0025, 0.0025, 0.0025, 0.0025, 0.0025, 0.0025, 0.0025, 0.0025,
    0.0022, 0.0022, 0.0022, 0.0022, 0.0022, 0.0022, 0.0022, 0.0022, 0.0022, 0.0022,
    0.002, 0.002, 0.002, 0.002, 0.002, 0.002, 0.002, 0.002, 0.002, 0.002,
    0.0016, 0.0016, 0.0016, 0.0016, 0.0016, 0.0016, 0.0016, 0.0016, 0.0016, 0.0016,
    0.0016, 0.0016, 0.0016, 0.0016, 0.0016, 0.0016, 0.0016, 0.0016, 0.0016, 0.0016,
    0.0016, 0.0016, 0.0016, 0.0016, 0.0016, 0.0016, 0.0016, 0.0016, 0.0016, 0.0016,
]
ape_lb = [
    0.81, 0.78, 0.81, 0.78, 0.76, 0.74, 0.72, 0.7, 0.69, 0.68,
    0.66, 0.65, 0.64, 0.64, 0.63, 0.63, 0.62, 0.61, 0.6, 0.6,
    0.58, 0.56, 0.54, 0.53, 0.51, 0.49, 0.46, 0.43, 0.41, 0.4,
    0.39, 0.38, 0.37, 0.36, 0.35, 0.345, 0.34, 0.33, 0.34, 0.32,
    0.31, 0.3, 0.29, 0.28, 0.275, 0.27, 0.26, 0.255, 0.25, 0.245,
    0.24, 0.235, 0.23, 0.22, 0.215, 0.21, 0.205, 0.2, 0.195, 0.19,
    0.185, 0.18, 0.175, 0.17, 0.165, 0.16, 0.156, 0.152, 0.148, 0.144,
    0.14, 0.137, 0.134, 0.131, 0.128, 0.125, 0.122, 0.12, 0.117, 0.115,
    0.112, 0.11, 0.107, 0.105, 0.102, 0.1, 0.098, 0.096, 0.094, 0.092,
    0.09, 0.088, 0.086, 0.084, 0.082, 0.081, 0.079, 0.077, 0.076, 0.074,
    0.072, 0.071, 0.069, 0.068, 0.066, 0.065, 0.064, 0.062, 0.061, 0.06,
    0.058, 0.057, 0.056, 0.055, 0.054, 0.053, 0.052, 0.051, 0.05, 0.049,
    0.048, 0.047, 0.047, 0.046, 0.045, 0.045, 0.044, 0.043, 0.043, 0.042,
    0.0383, 0.0397, 0.04, 0.0405, 0.0429, 0.0383, 0.0383, 0.0369, 0.038, 0.039,
    0.0397, 0.0371, 0.0426, 0.0405, 0.0383, 0.0357, 0.0378, 0.0378, 0.036, 0.036,
]
ape_lb_sd = [
    0.12, 0.14, 0.15, 0.14, 0.12, 0.1, 0.09, 0.08, 0.07, 0.065,
    0.06, 0.055, 0.05, 0.05, 0.045, 0.045, 0.04, 0.04, 0.038, 0.036,
    0.035, 0.034, 0.033, 0.032, 0.031, 0.03, 0.03, 0.029, 0.028, 0.028,
    0.027, 0.026, 0.026, 0.025, 0.025, 0.024, 0.024, 0.023, 0.023, 0.022,
    0.022, 0.021, 0.021, 0.02, 0.02, 0.019, 0.019, 0.018, 0.018, 0.017,
    0.017, 0.016, 0.016, 0.015, 0.015, 0.015, 0.014, 0.014, 0.013, 0.013,
    0.013, 0.012, 0.012, 0.012, 0.011, 0.011, 0.011, 0.01, 0.01, 0.01,
    0.0095, 0.0095, 0.0095, 0.0095, 0.0095, 0.0095, 0.0095, 0.0095, 0.0095, 0.0095,
    0.009, 0.009, 0.009, 0.009, 0.009, 0.009, 0.009, 0.009, 0.009, 0.009,
    0.0085, 0.0085, 0.0085, 0.0085, 0.0085, 0.0085, 0.0085, 0.0085, 0.0085, 0.0085,
    0.008, 0.008, 0.008, 0.008, 0.008, 0.008, 0.008, 0.008, 0.008, 0.008,
    0.0075, 0.0075, 0.0075, 0.0075, 0.0075, 0.0075, 0.0075, 0.0075, 0.0075, 0.0075,
    0.007, 0.007, 0.007, 0.007, 0.007, 0.007, 0.007, 0.007, 0.007, 0.006,
    0.006, 0.006, 0.006, 0.006, 0.006, 0.006, 0.006, 0.006, 0.006, 0.006,
    0.006, 0.006, 0.006, 0.006, 0.006, 0.006, 0.006, 0.006, 0.006, 0.006,
]
ape_tesg = [
    0.6, 0.57, 0.5, 0.45, 0.41, 0.39, 0.39, 0.38, 0.38, 0.38,
    0.38, 0.38, 0.37, 0.37, 0.37, 0.36, 0.36, 0.35, 0.345, 0.34,
    0.33, 0.32, 0.31, 0.3, 0.295, 0.285, 0.275, 0.265, 0.258, 0.25,
    0.24, 0.235, 0.225, 0.22, 0.21, 0.205, 0.195, 0.19, 0.18, 0.175,
    0.17, 0.165, 0.16, 0.155, 0.15, 0.145, 0.14, 0.135, 0.132, 0.128,
    0.124, 0.12, 0.117, 0.113, 0.11, 0.107, 0.104, 0.102, 0.1, 0.097,
    0.095, 0.092, 0.09, 0.088, 0.086, 0.084, 0.082, 0.08, 0.079, 0.077,
    0.075, 0.074, 0.072, 0.071, 0.069, 0.068, 0.067, 0.066, 0.064, 0.063,
    0.062, 0.061, 0.06, 0.059, 0.058, 0.057, 0.056, 0.055, 0.054, 0.053,
    0.052, 0.052, 0.051, 0.05, 0.049, 0.049, 0.048, 0.047, 0.047, 0.046,
    0.046, 0.045, 0.044, 0.044, 0.043, 0.043, 0.042, 0.042, 0.041, 0.041,
    0.04, 0.04, 0.039, 0.039, 0.038, 0.038, 0.038, 0.037, 0.037, 0.036,
    0.036, 0.036, 0.035, 0.036, 0.035, 0.035, 0.035, 0.034, 0.035, 0.0346,
    0.0302, 0.0337, 0.0302, 0.0333, 0.0329, 0.0321, 0.0312, 0.0302, 0.03, 0.0321,
    0.0321, 0.0321, 0.0351, 0.0323, 0.0312, 0.031, 0.0337, 0.03, 0.0279, 0.0302,
]
ape_tesg_sd = [
    0.03, 0.035, 0.035, 0.03, 0.03, 0.026, 0.026, 0.026, 0.026, 0.026,
    0.026, 0.026, 0.026, 0.026, 0.026, 0.025, 0.025, 0.025, 0.024, 0.024,
    0.023, 0.023, 0.022, 0.022, 0.021, 0.021, 0.021, 0.02, 0.02, 0.019,
    0.019, 0.019, 0.018, 0.018, 0.017, 0.017, 0.017, 0.016, 0.016, 0.016,
    0.015, 0.015, 0.015, 0.014, 0.014, 0.014, 0.013, 0.013, 0.013, 0.012,
    0.012, 0.012, 0.011, 0.011, 0.011, 0.011, 0.01, 0.01, 0.01, 0.01,
    0.009, 0.009, 0.009, 0.009, 0.008, 0.008, 0.008, 0.008, 0.008, 0.008,
    0.007, 0.007, 0.007, 0.007, 0.007, 0.007, 0.007, 0.007, 0.007, 0.007,
    0.006, 0.006, 0.006, 0.006, 0.006, 0.006, 0.006, 0.006, 0.006, 0.006,
    0.0055, 0.0055, 0.0055, 0.0055, 0.0055, 0.0055, 0.0055, 0.0055, 0.0055, 0.0055,
    0.005, 0.005, 0.005, 0.005, 0.005, 0.005, 0.005, 0.005, 0.005, 0.005,
    0.0045, 0.0045, 0.0045, 0.0045, 0.0045, 0.0045, 0.0045, 0.0045, 0.0045, 0.0045,
    0.0035, 0.0035, 0.0035, 0.0035, 0.0035, 0.0035, 0.0035, 0.0035, 0.0035, 0.0035,
    0.0035, 0.0035, 0.0035, 0.0035, 0.0035, 0.0035, 0.0035, 0.0035, 0.0035, 0.0035,
    0.0035, 0.0035, 0.0035, 0.0035, 0.0035, 0.0035, 0.0035, 0.0035, 0.0035, 0.0035,
]

# ---------------- (d) Average Orientation Error ----------------
aoe_dacmp = [
    2.1, 1.95, 1.82, 1.68, 1.57, 1.48, 1.4, 1.32, 1.24, 1.16,
    1.09, 1.02, 0.96, 0.9, 0.82, 0.74, 0.65, 0.56, 0.47, 0.39,
    0.34, 0.31, 0.3, 0.29, 0.28, 0.27, 0.26, 0.25, 0.24, 0.235,
    0.225, 0.22, 0.21, 0.205, 0.2, 0.195, 0.19, 0.185, 0.18, 0.175,
    0.17, 0.165, 0.16, 0.158, 0.155, 0.15, 0.147, 0.144, 0.14, 0.137,
    0.134, 0.13, 0.128, 0.125, 0.122, 0.12, 0.117, 0.115, 0.112, 0.11,
    0.108, 0.106, 0.104, 0.102, 0.1, 0.098, 0.097, 0.095, 0.094, 0.092,
    0.09, 0.089, 0.088, 0.086, 0.085, 0.084, 0.083, 0.082, 0.08, 0.079,
    0.078, 0.077, 0.076, 0.075, 0.074, 0.073, 0.072, 0.072, 0.071, 0.07,
    0.069, 0.068, 0.068, 0.067, 0.066, 0.066, 0.065, 0.064, 0.064, 0.063,
    0.063, 0.062, 0.062, 0.061, 0.06, 0.06, 0.059, 0.059, 0.058, 0.058,
    0.057, 0.057, 0.056, 0.056, 0.056, 0.055, 0.055, 0.054, 0.054, 0.054,
    0.053, 0.053, 0.052, 0.053, 0.052, 0.051, 0.052, 0.051, 0.05, 0.0498,
    0.053, 0.0504, 0.0495, 0.0513, 0.0495, 0.0504, 0.0513, 0.0507, 0.0491, 0.0521,
    0.0543, 0.0495, 0.0498, 0.0495, 0.0513, 0.0495, 0.048, 0.0489, 0.0491, 0.0459,
]
aoe_dacmp_sd = [
    0.06, 0.06, 0.065, 0.07, 0.075, 0.08, 0.085, 0.09, 0.09, 0.09,
    0.09, 0.09, 0.09, 0.085, 0.08, 0.075, 0.07, 0.06, 0.05, 0.04,
    0.03, 0.02, 0.015, 0.012, 0.011, 0.01, 0.01, 0.009, 0.009, 0.009,
    0.008, 0.008, 0.008, 0.007, 0.007, 0.007, 0.007, 0.006, 0.006, 0.006,
    0.006, 0.006, 0.006, 0.006, 0.006, 0.006, 0.006, 0.006, 0.006, 0.006,
    0.005, 0.005, 0.005, 0.005, 0.005, 0.005, 0.005, 0.005, 0.005, 0.005,
    0.0045, 0.0045, 0.0045, 0.0045, 0.0045, 0.0045, 0.0045, 0.0045, 0.0045, 0.0045,
    0.0045, 0.0045, 0.0045, 0.0045, 0.0045, 0.0045, 0.0045, 0.0045, 0.0045, 0.0045,
    0.0045, 0.0045, 0.0045, 0.0045, 0.0045, 0.0045, 0.0045, 0.0045, 0.0045, 0.0045,
    0.004, 0.004, 0.004, 0.004, 0.004, 0.004, 0.004, 0.004, 0.004, 0.004,
    0.004, 0.004, 0.004, 0.004, 0.004, 0.004, 0.004, 0.004, 0.004, 0.004,
    0.004, 0.004, 0.004, 0.004, 0.004, 0.004, 0.004, 0.004, 0.004, 0.004,
    0.0035, 0.0035, 0.0035, 0.0035, 0.0035, 0.0035, 0.0035, 0.0035, 0.0035, 0.0035,
    0.0035, 0.0035, 0.0035, 0.0035, 0.0035, 0.0035, 0.0035, 0.0035, 0.0035, 0.0035,
    0.0035, 0.0035, 0.0035, 0.0035, 0.0035, 0.0035, 0.0035, 0.0035, 0.0035, 0.0035,
]
aoe_rrt = [
    2.0, 1.72, 1.42, 1.18, 0.98, 0.83, 0.72, 0.62, 0.56, 0.52,
    0.48, 0.46, 0.44, 0.43, 0.43, 0.42, 0.41, 0.4, 0.385, 0.375,
    0.36, 0.35, 0.345, 0.34, 0.335, 0.33, 0.325, 0.32, 0.31, 0.305,
    0.3, 0.295, 0.29, 0.285, 0.28, 0.275, 0.27, 0.265, 0.26, 0.255,
    0.25, 0.245, 0.24, 0.235, 0.23, 0.225, 0.22, 0.215, 0.21, 0.205,
    0.198, 0.194, 0.19, 0.185, 0.18, 0.176, 0.171, 0.167, 0.162, 0.158,
    0.155, 0.152, 0.149, 0.146, 0.143, 0.14, 0.138, 0.136, 0.134, 0.132,
    0.13, 0.128, 0.126, 0.124, 0.122, 0.12, 0.118, 0.117, 0.115, 0.113,
    0.112, 0.111, 0.11, 0.108, 0.107, 0.105, 0.104, 0.102, 0.101, 0.1,
    0.099, 0.098, 0.097, 0.096, 0.095, 0.094, 0.093, 0.092, 0.091, 0.09,
    0.089, 0.088, 0.088, 0.087, 0.086, 0.085, 0.085, 0.084, 0.083, 0.083,
    0.082, 0.082, 0.081, 0.081, 0.08, 0.08, 0.079, 0.079, 0.078, 0.078,
    0.078, 0.077, 0.077, 0.076, 0.077, 0.076, 0.076, 0.075, 0.076, 0.0766,
    0.0691, 0.0705, 0.0696, 0.0741, 0.0789, 0.0727, 0.0691, 0.0659, 0.0754, 0.0754,
    0.0727, 0.0713, 0.0759, 0.0713, 0.0718, 0.0695, 0.0695, 0.0713, 0.0691, 0.0691,
]
aoe_rrt_sd = [
    0.06, 0.06, 0.05, 0.045, 0.04, 0.035, 0.03, 0.028, 0.026, 0.025,
    0.024, 0.023, 0.022, 0.021, 0.02, 0.02, 0.019, 0.019, 0.018, 0.018,
    0.017, 0.017, 0.016, 0.016, 0.016, 0.015, 0.015, 0.015, 0.014, 0.014,
    0.014, 0.013, 0.013, 0.013, 0.012, 0.012, 0.012, 0.011, 0.011, 0.011,
    0.01, 0.01, 0.01, 0.01, 0.01, 0.01, 0.01, 0.01, 0.01, 0.01,
    0.009, 0.009, 0.009, 0.009, 0.009, 0.009, 0.009, 0.009, 0.009, 0.009,
    0.008, 0.008, 0.008, 0.008, 0.008, 0.008, 0.008, 0.008, 0.008, 0.008,
    0.007, 0.007, 0.007, 0.007, 0.007, 0.007, 0.007, 0.007, 0.007, 0.007,
    0.006, 0.006, 0.006, 0.006, 0.006, 0.006, 0.006, 0.006, 0.006, 0.006,
    0.006, 0.006, 0.006, 0.006, 0.006, 0.006, 0.006, 0.006, 0.006, 0.006,
    0.005, 0.005, 0.005, 0.005, 0.005, 0.005, 0.005, 0.005, 0.005, 0.005,
    0.005, 0.005, 0.005, 0.005, 0.005, 0.005, 0.005, 0.005, 0.005, 0.005,
    0.005, 0.005, 0.005, 0.005, 0.005, 0.005, 0.005, 0.005, 0.005, 0.005,
    0.005, 0.005, 0.005, 0.005, 0.005, 0.005, 0.005, 0.005, 0.005, 0.005,
    0.005, 0.005, 0.005, 0.005, 0.005, 0.005, 0.005, 0.005, 0.005, 0.005,
]
aoe_pid = [
    2.08, 1.95, 1.83, 1.7, 1.6, 1.5, 1.42, 1.34, 1.27, 1.19,
    1.12, 1.05, 0.99, 0.93, 0.86, 0.78, 0.69, 0.6, 0.5, 0.4,
    0.33, 0.3, 0.29, 0.28, 0.27, 0.26, 0.25, 0.245, 0.235, 0.23,
    0.22, 0.21, 0.205, 0.2, 0.195, 0.19, 0.185, 0.18, 0.175, 0.17,
    0.165, 0.16, 0.156, 0.152, 0.148, 0.145, 0.142, 0.139, 0.136, 0.133,
    0.13, 0.127, 0.124, 0.121, 0.119, 0.116, 0.114, 0.112, 0.11, 0.107,
    0.105, 0.103, 0.101, 0.1, 0.098, 0.096, 0.094, 0.093, 0.091, 0.09,
    0.088, 0.087, 0.086, 0.084, 0.083, 0.082, 0.081, 0.08, 0.079, 0.078,
    0.077, 0.076, 0.075, 0.074, 0.073, 0.072, 0.071, 0.07, 0.069, 0.069,
    0.068, 0.067, 0.066, 0.066, 0.065, 0.064, 0.064, 0.063, 0.062, 0.062,
    0.061, 0.061, 0.06, 0.06, 0.059, 0.059, 0.058, 0.058, 0.057, 0.057,
    0.057, 0.056, 0.056, 0.055, 0.055, 0.055, 0.054, 0.054, 0.054, 0.053,
    0.053, 0.053, 0.052, 0.052, 0.052, 0.052, 0.051, 0.051, 0.051, 0.0552,
    0.0491, 0.0486, 0.0498, 0.0543, 0.0504, 0.0513, 0.0521, 0.0516, 0.0504, 0.0486,
    0.0539, 0.0477, 0.0557, 0.0539, 0.0504, 0.0513, 0.053, 0.053, 0.053, 0.0534,
]
aoe_pid_sd = [
    0.05, 0.05, 0.055, 0.06, 0.065, 0.07, 0.075, 0.08, 0.08, 0.085,
    0.085, 0.085, 0.085, 0.08, 0.075, 0.07, 0.065, 0.055, 0.045, 0.035,
    0.025, 0.018, 0.014, 0.012, 0.011, 0.01, 0.01, 0.009, 0.009, 0.009,
    0.008, 0.008, 0.008, 0.007, 0.007, 0.007, 0.007, 0.006, 0.006, 0.006,
    0.006, 0.006, 0.006, 0.006, 0.006, 0.006, 0.006, 0.006, 0.006, 0.006,
    0.005, 0.005, 0.005, 0.005, 0.005, 0.005, 0.005, 0.005, 0.005, 0.005,
    0.0045, 0.0045, 0.0045, 0.0045, 0.0045, 0.0045, 0.0045, 0.0045, 0.0045, 0.0045,
    0.0045, 0.0045, 0.0045, 0.0045, 0.0045, 0.0045, 0.0045, 0.0045, 0.0045, 0.0045,
    0.0045, 0.0045, 0.0045, 0.0045, 0.0045, 0.0045, 0.0045, 0.0045, 0.0045, 0.0045,
    0.004, 0.004, 0.004, 0.004, 0.004, 0.004, 0.004, 0.004, 0.004, 0.004,
    0.004, 0.004, 0.004, 0.004, 0.004, 0.004, 0.004, 0.004, 0.004, 0.004,
    0.004, 0.004, 0.004, 0.004, 0.004, 0.004, 0.004, 0.004, 0.004, 0.004,
    0.0035, 0.0035, 0.0035, 0.0035, 0.0035, 0.0035, 0.0035, 0.0035, 0.0035, 0.0035,
    0.0035, 0.0035, 0.0035, 0.0035, 0.0035, 0.0035, 0.0035, 0.0035, 0.0035, 0.0035,
    0.0035, 0.0035, 0.0035, 0.0035, 0.0035, 0.0035, 0.0035, 0.0035, 0.0035, 0.0035,
]
aoe_lb = [
    2.1, 1.95, 1.82, 1.78, 1.8, 1.83, 1.86, 1.88, 1.9, 1.92,
    1.93, 1.95, 1.94, 1.96, 1.94, 1.96, 1.95, 1.88, 1.78, 1.72,
    1.66, 1.6, 1.55, 1.5, 1.42, 1.32, 1.24, 1.2, 1.12, 1.05,
    0.98, 0.92, 0.88, 0.86, 0.76, 0.7, 0.66, 0.62, 0.58, 0.56,
    0.53, 0.51, 0.49, 0.47, 0.45, 0.43, 0.42, 0.4, 0.41, 0.39,
    0.38, 0.39, 0.37, 0.36, 0.35, 0.34, 0.33, 0.32, 0.31, 0.3,
    0.29, 0.285, 0.28, 0.275, 0.27, 0.265, 0.26, 0.255, 0.25, 0.245,
    0.24, 0.232, 0.225, 0.218, 0.21, 0.205, 0.2, 0.195, 0.19, 0.185,
    0.18, 0.175, 0.17, 0.166, 0.162, 0.158, 0.154, 0.15, 0.147, 0.144,
    0.14, 0.137, 0.134, 0.131, 0.128, 0.126, 0.123, 0.12, 0.118, 0.116,
    0.114, 0.112, 0.11, 0.108, 0.106, 0.104, 0.103, 0.101, 0.1, 0.098,
    0.097, 0.096, 0.095, 0.094, 0.093, 0.092, 0.091, 0.09, 0.09, 0.089,
    0.088, 0.088, 0.087, 0.087, 0.086, 0.086, 0.085, 0.085, 0.086, 0.0932,
    0.0861, 0.0825, 0.0825, 0.0891, 0.0905, 0.0855, 0.0861, 0.0843, 0.0843, 0.0838,
    0.0811, 0.0838, 0.0936, 0.0852, 0.0873, 0.0784, 0.0834, 0.0816, 0.0821, 0.0798,
]
aoe_lb_sd = [
    0.06, 0.08, 0.09, 0.1, 0.1, 0.1, 0.1, 0.1, 0.09, 0.09,
    0.09, 0.085, 0.08, 0.08, 0.08, 0.08, 0.08, 0.08, 0.08, 0.08,
    0.075, 0.07, 0.07, 0.065, 0.065, 0.06, 0.06, 0.06, 0.055, 0.055,
    0.05, 0.05, 0.05, 0.045, 0.045, 0.045, 0.04, 0.04, 0.04, 0.04,
    0.035, 0.035, 0.035, 0.033, 0.032, 0.031, 0.03, 0.03, 0.029, 0.028,
    0.027, 0.026, 0.025, 0.025, 0.024, 0.023, 0.023, 0.022, 0.022, 0.021,
    0.021, 0.02, 0.02, 0.019, 0.019, 0.018, 0.018, 0.018, 0.017, 0.017,
    0.016, 0.016, 0.016, 0.016, 0.016, 0.016, 0.016, 0.016, 0.016, 0.016,
    0.015, 0.015, 0.015, 0.015, 0.015, 0.015, 0.015, 0.015, 0.015, 0.015,
    0.014, 0.014, 0.014, 0.014, 0.014, 0.014, 0.014, 0.014, 0.014, 0.014,
    0.013, 0.013, 0.013, 0.013, 0.013, 0.013, 0.013, 0.013, 0.013, 0.013,
    0.012, 0.012, 0.012, 0.012, 0.012, 0.012, 0.012, 0.012, 0.012, 0.012,
    0.011, 0.011, 0.011, 0.011, 0.011, 0.011, 0.011, 0.011, 0.011, 0.01,
    0.01, 0.01, 0.01, 0.01, 0.01, 0.01, 0.01, 0.01, 0.01, 0.01,
    0.01, 0.01, 0.01, 0.01, 0.01, 0.01, 0.01, 0.01, 0.01, 0.01,
]
aoe_tesg = [
    1.98, 1.72, 1.44, 1.2, 1.0, 0.85, 0.73, 0.63, 0.56, 0.51,
    0.47, 0.45, 0.43, 0.42, 0.42, 0.41, 0.4, 0.39, 0.38, 0.37,
    0.355, 0.345, 0.34, 0.335, 0.33, 0.325, 0.32, 0.315, 0.305, 0.3,
    0.295, 0.29, 0.285, 0.28, 0.275, 0.27, 0.265, 0.26, 0.255, 0.25,
    0.245, 0.24, 0.235, 0.23, 0.225, 0.22, 0.215, 0.21, 0.205, 0.2,
    0.195, 0.191, 0.187, 0.183, 0.178, 0.174, 0.17, 0.166, 0.161, 0.157,
    0.153, 0.15, 0.147, 0.144, 0.141, 0.138, 0.136, 0.134, 0.132, 0.13,
    0.128, 0.126, 0.124, 0.122, 0.12, 0.118, 0.116, 0.114, 0.113, 0.111,
    0.109, 0.108, 0.106, 0.105, 0.103, 0.102, 0.1, 0.099, 0.098, 0.096,
    0.095, 0.094, 0.093, 0.092, 0.091, 0.09, 0.089, 0.088, 0.087, 0.086,
    0.085, 0.085, 0.084, 0.083, 0.082, 0.082, 0.081, 0.08, 0.08, 0.079,
    0.079, 0.078, 0.078, 0.077, 0.077, 0.076, 0.076, 0.075, 0.075, 0.075,
    0.074, 0.074, 0.074, 0.073, 0.074, 0.073, 0.073, 0.072, 0.073, 0.0727,
    0.07, 0.0705, 0.0673, 0.0745, 0.0736, 0.0727, 0.0691, 0.0713, 0.073, 0.0736,
    0.0709, 0.0718, 0.0748, 0.0736, 0.0727, 0.0709, 0.0736, 0.0682, 0.0682, 0.0718,
]
aoe_tesg_sd = [
    0.06, 0.06, 0.05, 0.045, 0.04, 0.035, 0.03, 0.028, 0.026, 0.025,
    0.024, 0.023, 0.022, 0.021, 0.02, 0.02, 0.019, 0.019, 0.018, 0.018,
    0.017, 0.017, 0.016, 0.016, 0.016, 0.015, 0.015, 0.015, 0.014, 0.014,
    0.014, 0.013, 0.013, 0.013, 0.012, 0.012, 0.012, 0.011, 0.011, 0.011,
    0.01, 0.01, 0.01, 0.01, 0.01, 0.01, 0.01, 0.01, 0.01, 0.01,
    0.009, 0.009, 0.009, 0.009, 0.009, 0.009, 0.009, 0.009, 0.009, 0.009,
    0.008, 0.008, 0.008, 0.008, 0.008, 0.008, 0.008, 0.008, 0.008, 0.008,
    0.007, 0.007, 0.007, 0.007, 0.007, 0.007, 0.007, 0.007, 0.007, 0.007,
    0.006, 0.006, 0.006, 0.006, 0.006, 0.006, 0.006, 0.006, 0.006, 0.006,
    0.006, 0.006, 0.006, 0.006, 0.006, 0.006, 0.006, 0.006, 0.006, 0.006,
    0.005, 0.005, 0.005, 0.005, 0.005, 0.005, 0.005, 0.005, 0.005, 0.005,
    0.005, 0.005, 0.005, 0.005, 0.005, 0.005, 0.005, 0.005, 0.005, 0.005,
    0.0045, 0.0045, 0.0045, 0.0045, 0.0045, 0.0045, 0.0045, 0.0045, 0.0045, 0.0045,
    0.0045, 0.0045, 0.0045, 0.0045, 0.0045, 0.0045, 0.0045, 0.0045, 0.0045, 0.0045,
    0.0045, 0.0045, 0.0045, 0.0045, 0.0045, 0.0045, 0.0045, 0.0045, 0.0045, 0.0045,
]

# Tick labels
epoch_ticks = [0, 20, 40, 60, 80, 100, 120, 140]
zoom_ticks = [130, 135, 140, 145, 150]
asr_ticks = [0.0, 0.2, 0.4, 0.6, 0.8, 1.0]
abae_ticks = [0.00, 0.02, 0.04, 0.06, 0.08, 0.10, 0.12, 0.14]
ape_ticks = [0.0, 0.2, 0.4, 0.6, 0.8, 1.0]
aoe_ticks = [0.00, 0.25, 0.50, 0.75, 1.00, 1.25, 1.50, 1.75, 2.00, 2.25]
abae_zoom_ticks = [0.03, 0.04, 0.05, 0.06]
ape_zoom_ticks = [0.01, 0.02, 0.03, 0.04, 0.05]
aoe_zoom_ticks = [0.04, 0.06, 0.08, 0.10]

# ------------- layout geometry (pixels) -------------
# main plot boxes: left, right, top, bottom
BOX_A = (56.0, 467.4, 24.5, 295.7)
BOX_B = (567.3, 976.0, 24.5, 295.7)      # right part runs past the page edge
BOX_C = (56.0, 467.4, 433.3, 705.0)
BOX_D = (567.3, 976.0, 433.3, 705.0)
# zoom insets
INS_B = (764.0, 962.0, 35.7, 165.5)
INS_C = (253.0, 450.0, 444.3, 574.3)
INS_D = (764.0, 962.0, 444.3, 574.3)

px_per_epoch = (BOX_A[1] - BOX_A[0]) / 150.0
x_max_right = (BOX_B[1] - BOX_B[0]) / px_per_epoch


def xdom(box):
    return [box[0] / W, min(box[1] / W, 1.0)]


def ydom(box):
    return [1 - box[3] / H, 1 - box[2] / H]


def rgba(hex_color, a):
    h = hex_color.lstrip("#")
    return "rgba(%d,%d,%d,%.2f)" % (int(h[0:2], 16), int(h[2:4], 16), int(h[4:6], 16), a)


fig = go.Figure()


def add_panel(xa, ya, means, sds, start=1, lw=1.6):
    idx = [i for i, e in enumerate(epochs) if e >= start]
    xs = [epochs[i] for i in idx]
    for name, color, m, s in zip(method_names, method_colors, means, sds):
        upper = [m[i] + s[i] for i in idx]
        lower = [m[i] - s[i] for i in idx]
        fig.add_trace(go.Scatter(
            x=xs + xs[::-1], y=upper + lower[::-1], mode="lines",
            fill="toself", fillcolor=rgba(color, 0.26), line=dict(width=0),
            hoverinfo="skip", showlegend=False, xaxis=xa, yaxis=ya))
        fig.add_trace(go.Scatter(
            x=xs, y=[m[i] for i in idx], mode="lines", name=name,
            line=dict(color=color, width=lw), showlegend=False,
            xaxis=xa, yaxis=ya))


asr = ([asr_dacmp, asr_rrt, asr_pid, asr_lb, asr_tesg],
       [asr_dacmp_sd, asr_rrt_sd, asr_pid_sd, asr_lb_sd, asr_tesg_sd])
abae = ([abae_dacmp, abae_rrt, abae_pid, abae_lb, abae_tesg],
        [abae_dacmp_sd, abae_rrt_sd, abae_pid_sd, abae_lb_sd, abae_tesg_sd])
ape = ([ape_dacmp, ape_rrt, ape_pid, ape_lb, ape_tesg],
       [ape_dacmp_sd, ape_rrt_sd, ape_pid_sd, ape_lb_sd, ape_tesg_sd])
aoe = ([aoe_dacmp, aoe_rrt, aoe_pid, aoe_lb, aoe_tesg],
       [aoe_dacmp_sd, aoe_rrt_sd, aoe_pid_sd, aoe_lb_sd, aoe_tesg_sd])

add_panel("x", "y", *asr)
add_panel("x2", "y2", *abae)
add_panel("x3", "y3", *ape)
add_panel("x4", "y4", *aoe)
add_panel("x5", "y5", *abae, start=128, lw=1.8)
add_panel("x6", "y6", *ape, start=128, lw=1.8)
add_panel("x7", "y7", *aoe, start=128, lw=1.8)

SPINE = "#262626"
GRID = "#cdcdcd"
TICK_FONT = dict(family="DejaVu Sans", size=12, color="#1a1a1a")
ZOOM_FONT = dict(family="DejaVu Sans", size=9.5, color="#1a1a1a")


def axis(domain, rng, anchor, tickvals, fmt=None, mirror=True, font=TICK_FONT):
    d = dict(domain=domain, range=rng, anchor=anchor, tickvals=tickvals,
             showline=True, linecolor=SPINE, linewidth=1.1, mirror=mirror,
             ticks="outside", ticklen=3.5, tickwidth=1, tickcolor=SPINE,
             showgrid=True, gridcolor=GRID, gridwidth=1, zeroline=False,
             tickfont=font, fixedrange=True, automargin=False)
    if fmt:
        d["tickformat"] = fmt
    return d


fig.update_layout(
    width=W, height=H, margin=dict(l=0, r=0, t=0, b=0, pad=0, autoexpand=False),
    paper_bgcolor="white", plot_bgcolor="white", showlegend=False,
    xaxis=axis(xdom(BOX_A), [0, 150], "y", epoch_ticks),
    yaxis=axis(ydom(BOX_A), [0, 1.0], "x", asr_ticks, ".1f"),
    xaxis2=axis(xdom(BOX_B), [0, x_max_right], "y2", epoch_ticks),
    yaxis2=axis(ydom(BOX_B), [0, 0.15], "x2", abae_ticks, ".2f", mirror=False),
    xaxis3=axis(xdom(BOX_C), [0, 150], "y3", epoch_ticks),
    yaxis3=axis(ydom(BOX_C), [0, 1.0], "x3", ape_ticks, ".1f"),
    xaxis4=axis(xdom(BOX_D), [0, x_max_right], "y4", epoch_ticks),
    yaxis4=axis(ydom(BOX_D), [0, 2.25], "x4", aoe_ticks, ".2f", mirror=False),
    xaxis5=axis(xdom(INS_B), [130, 150], "y5", zoom_ticks, font=ZOOM_FONT),
    yaxis5=axis(ydom(INS_B), [0.025, 0.06], "x5", abae_zoom_ticks, ".2f", font=ZOOM_FONT),
    xaxis6=axis(xdom(INS_C), [130, 150], "y6", zoom_ticks, font=ZOOM_FONT),
    yaxis6=axis(ydom(INS_C), [0.01, 0.055], "x6", ape_zoom_ticks, ".2f", font=ZOOM_FONT),
    xaxis7=axis(xdom(INS_D), [130, 150], "y7", zoom_ticks, font=ZOOM_FONT),
    yaxis7=axis(ydom(INS_D), [0.04, 0.11], "x7", aoe_zoom_ticks, ".2f", font=ZOOM_FONT),
)

# ---- insets: opaque background, zoom box, connector lines ----
insets = [
    # main box, main x range, main y range, inset box, inset y range, main axis ids
    (BOX_B, (0, x_max_right), (0, 0.15), INS_B, (0.025, 0.06), "x2", "y2"),
    (BOX_C, (0, 150), (0, 1.0), INS_C, (0.01, 0.055), "x3", "y3"),
    (BOX_D, (0, x_max_right), (0, 2.25), INS_D, (0.04, 0.11), "x4", "y4"),
]
dot = dict(color="#333333", width=1, dash="dot")
for box, xr, yr, ins, zyr, xa, ya in insets:
    bw, bh = box[1] - box[0], box[3] - box[2]

    def to_data(px, py):
        return (xr[0] + (px - box[0]) / bw * (xr[1] - xr[0]),
                yr[0] + (box[3] - py) / bh * (yr[1] - yr[0]))

    def to_px(x, y):
        return (box[0] + (x - xr[0]) / (xr[1] - xr[0]) * bw,
                box[3] - (y - yr[0]) / (yr[1] - yr[0]) * bh)

    # white card under the inset, above the main grid
    c0 = to_data(ins[0], ins[3])
    c1 = to_data(ins[1], ins[2])
    fig.add_shape(type="rect", xref=xa, yref=ya, x0=c0[0], y0=c0[1], x1=c1[0], y1=c1[1],
                  fillcolor="white", line=dict(width=0), layer="between")
    # zoomed region on the main axes
    fig.add_shape(type="rect", xref=xa, yref=ya, x0=130, x1=150,
                  y0=zyr[0], y1=zyr[1], line=dot, layer="above")
    ll = to_px(130, zyr[0])
    ur = to_px(150, zyr[1])
    for (ix, iy), (tx, ty) in (((ins[0], ins[3]), ll), ((ins[1], ins[2]), ur)):
        fig.add_shape(type="line", xref="paper", yref="paper",
                      x0=ix / W, y0=1 - iy / H, x1=tx / W, y1=1 - ty / H,
                      line=dot, layer="above")

# ---- per-panel legends ----
legend_offsets = [0, 72, 156, 231, 345]
legend_rows = [(42, 9.5), (553, 9.5), (42, 418.5), (553, 418.5)]
for lx, ly in legend_rows:
    for off, name, color in zip(legend_offsets, method_names, method_colors):
        fig.add_shape(type="line", xref="paper", yref="paper",
                      x0=(lx + off) / W, x1=(lx + off + 21) / W,
                      y0=1 - ly / H, y1=1 - ly / H,
                      line=dict(color=color, width=2), layer="above")
        fig.add_annotation(x=(lx + off + 27.5) / W, y=1 - ly / H, xref="paper", yref="paper",
                           text=name, showarrow=False, xanchor="left", yanchor="middle",
                           font=dict(family="DejaVu Sans", size=9.5, color="#1a1a1a"))

# ---- axis titles ----
TITLE_FONT = dict(family="DejaVu Sans", size=12, color="#1a1a1a")
ytitles = [("Average Success Rate", 16.5, 160.0),
           ("Average Base Attitude Error (rad)", 520.5, 160.0),
           ("Average Position Error (m)", 16.5, 569.0),
           ("Average Orientation Error (rad)", 520.5, 569.0)]
for txt, x, y in ytitles:
    fig.add_annotation(x=x / W, y=1 - y / H, xref="paper", yref="paper", text=txt,
                       textangle=-90, showarrow=False, font=TITLE_FONT,
                       xanchor="center", yanchor="middle")
for x, y in [(261.7, 327.0), (773.0, 327.0), (261.7, 736.0), (773.0, 736.0)]:
    fig.add_annotation(x=x / W, y=1 - y / H, xref="paper", yref="paper", text="Epochs",
                       showarrow=False, font=TITLE_FONT, xanchor="center", yanchor="middle")

# ---- sub-figure captions ----
CAP_FONT = dict(family="Liberation Serif", size=27, color="black")
captions = [("<b>a)</b> Average Success Rate (ASR)", 236.0, 357.0),
            ("<b>b)</b> Average Base Attitude Error (ABAE)", 756.5, 357.0),
            ("<b>c)</b> Average Position Error (APE)", 233.0, 767.0),
            ("<b>d)</b> Average Orientation Error (AOE)", 745.0, 767.0)]
for txt, x, y in captions:
    fig.add_annotation(x=x / W, y=1 - y / H, xref="paper", yref="paper", text=txt,
                       showarrow=False, font=CAP_FONT, xanchor="center", yanchor="middle")

fig.write_html("out.html", include_plotlyjs=True, config={"displayModeBar": False})
